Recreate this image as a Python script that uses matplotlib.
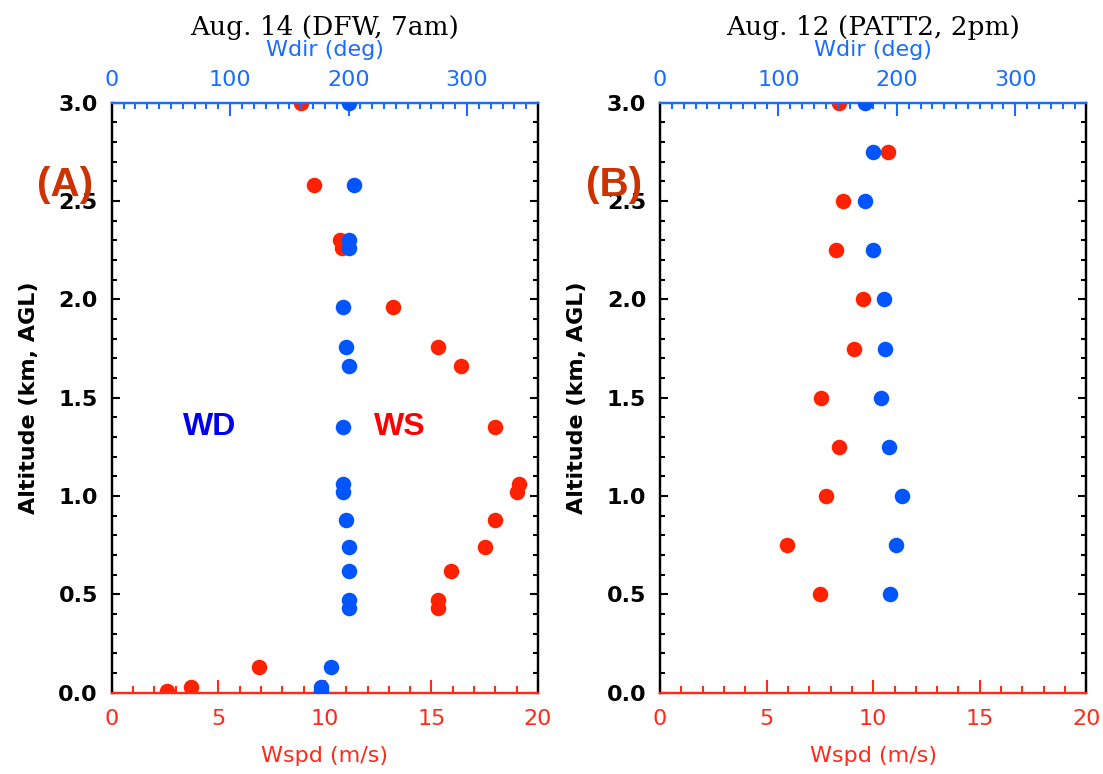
import numpy as np
import matplotlib
matplotlib.use("Agg")
import matplotlib.pyplot as plt
from matplotlib.ticker import MultipleLocator

# --- sounding profiles -------------------------------------------------
# Aug. 14, DFW 7am
alt_a = [3.00, 2.58, 2.30, 2.26, 1.96, 1.76, 1.66, 1.35, 1.06, 1.02,
         0.88, 0.74, 0.62, 0.47, 0.43, 0.13, 0.03, 0.01]
wspd_a = [8.9, 9.5, 10.7, 10.8, 13.2, 15.3, 16.4, 18.0, 19.1, 19.0,
          18.0, 17.5, 15.9, 15.3, 15.3, 6.9, 3.7, 2.6]
wdir_a = [200, 205, 200, 200, 195, 198, 200, 195, 195, 195,
          198, 200, 200, 200, 200, 185, 177, 177]

# Aug. 12, PATT2 2pm
alt_b = [3.00, 2.75, 2.50, 2.25, 2.00, 1.75, 1.50, 1.25, 1.00, 0.75, 0.50]
wspd_b = [8.4, 10.7, 8.6, 8.25, 9.5, 9.1, 7.55, 8.4, 7.8, 5.95, 7.5]
wdir_b = [173, 180, 173, 180, 189, 190, 187, 193, 204, 199, 194]

titles = ["Aug. 14 (DFW, 7am)", "Aug. 12 (PATT2, 2pm)"]
panel_tags = ["(A)", "(B)"]

RED = "#ff2200"
BLUE = "#0055ff"
AXRED = "#ff2a1a"
AXBLUE = "#1a6cff"
TAG = "#cc3300"

fig = plt.figure(figsize=(11.03, 7.74), dpi=100)

lefts = [0.1013, 0.5984]
width = 0.3865
bottom, height = 0.105, 0.7623

profiles = [(alt_a, wspd_a, wdir_a), (alt_b, wspd_b, wdir_b)]

for i, (alt, ws, wd) in enumerate(profiles):
    ax = fig.add_axes([lefts[i], bottom, width, height])
    ax2 = ax.twiny()

    ax.scatter(ws, alt, s=125, color=RED, marker="o", linewidths=0, zorder=3)
    ax2.scatter(wd, alt, s=125, color=BLUE, marker="o", linewidths=0, zorder=3)

    ax.set_xlim(0, 20)
    ax.set_ylim(0, 3.0)
    ax2.set_xlim(0, 360)

    # spines
    for a in (ax, ax2):
        for sp in a.spines.values():
            sp.set_linewidth(1.6)
        a.spines["left"].set_color("black")
        a.spines["right"].set_color("black")
        a.spines["bottom"].set_color(AXRED)
        a.spines["top"].set_color(AXBLUE)

    # bottom axis: wind speed
    ax.xaxis.set_major_locator(MultipleLocator(5))
    ax.xaxis.set_minor_locator(MultipleLocator(1))
    ax.tick_params(axis="x", which="major", direction="in", length=9.5,
                   width=1.5, color=AXRED, labelcolor=AXRED, labelsize=16, pad=12)
    ax.tick_params(axis="x", which="minor", direction="in", length=5,
                   width=1.5, color=AXRED)
    ax.set_xlabel("Wspd (m/s)", color=AXRED, fontsize=16, labelpad=12)

    # left/right axis: altitude
    ax.yaxis.set_major_locator(MultipleLocator(0.5))
    ax.yaxis.set_minor_locator(MultipleLocator(0.1))
    ax.yaxis.set_major_formatter(matplotlib.ticker.FormatStrFormatter("%.1f"))
    ax.tick_params(axis="y", which="both", direction="in", left=True, right=True,
                   color="black", width=1.5)
    ax.tick_params(axis="y", which="major", length=6, labelsize=16, pad=10)
    ax.tick_params(axis="y", which="minor", length=3.5)
    for lab in ax.get_yticklabels():
        lab.set_fontweight("bold")
    ax.set_ylabel("Altitude (km, AGL)", fontsize=16, fontweight="bold", labelpad=14)

    # top axis: wind direction
    ax2.xaxis.set_major_locator(MultipleLocator(100))
    ax2.xaxis.set_minor_locator(MultipleLocator(10))
    ax2.tick_params(axis="x", which="major", direction="in", length=9,
                    width=1.5, color=AXBLUE, labelcolor=AXBLUE, labelsize=16, pad=9)
    ax2.tick_params(axis="x", which="minor", direction="in", length=4.5,
                    width=1.5, color=AXBLUE)
    ax2.set_xlabel("Wdir (deg)", color=AXBLUE, fontsize=16, labelpad=10)

    ax2.set_title(titles[i], family="DejaVu Serif", fontsize=19, pad=0)

    fig.text(lefts[i] - 0.042, 0.761, panel_tags[i], color=TAG, fontsize=29,
             fontweight="bold", family="Liberation Sans", ha="center", va="center")

    if i == 0:
        ax.text(0.23, 0.45, "WD", transform=ax.transAxes, color="#0000ee",
                fontsize=23, fontweight="bold", family="Liberation Sans",
                ha="center", va="center")
        ax.text(0.675, 0.45, "WS", transform=ax.transAxes, color="#ff0000",
                fontsize=23, fontweight="bold", family="Liberation Sans",
                ha="center", va="center")

fig.savefig("out.png", dpi=100)
